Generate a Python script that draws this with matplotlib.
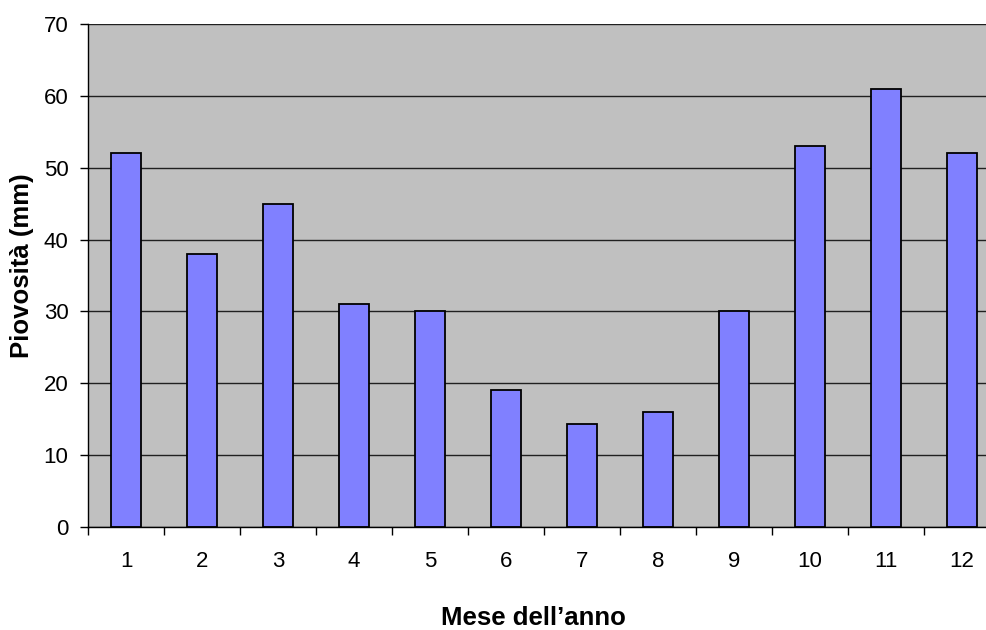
import matplotlib
matplotlib.use("Agg")
import matplotlib.pyplot as plt
import numpy as np

months = ["1", "2", "3", "4", "5", "6", "7", "8", "9", "10", "11", "12"]
rain = [52, 38, 45, 31, 30, 19, 14.3, 16, 30, 53, 61, 52]
yticks = [0, 10, 20, 30, 40, 50, 60, 70]

plt.rcParams['font.family'] = ['Liberation Sans', 'DejaVu Sans']

W, H = 986, 630
fig = plt.figure(figsize=(W / 100, H / 100), dpi=100)
left, right, top, bottom = 88, 1000, 24, 527
ax = fig.add_axes([left / W, 1 - bottom / H, (right - left) / W, (bottom - top) / H])
ax.set_facecolor('#C0C0C0')

x = np.arange(len(months))
ax.set_axisbelow(True)
ax.yaxis.grid(True, color='#202020', linewidth=1.0)
ax.bar(x, rain, width=0.4, color='#8080FF', edgecolor='black', linewidth=1.3, zorder=2)

ax.set_xlim(-0.5, len(months) - 0.5)
ax.set_ylim(0, 70)
ax.set_yticks(yticks)
ax.set_yticklabels([str(v) for v in yticks], fontsize=16)
ax.tick_params(axis='y', direction='out', length=6, width=1, pad=8)

ax.set_xticks(np.arange(len(months) + 1) - 0.5)
ax.set_xticklabels([])
ax.set_xticks(x, minor=True)
ax.set_xticklabels(months, minor=True, fontsize=16)
ax.tick_params(axis='x', which='major', direction='out', length=6, width=1)
ax.tick_params(axis='x', which='minor', length=0, pad=17)

for s in ['top', 'right']:
    ax.spines[s].set_visible(False)
for s in ['left', 'bottom']:
    ax.spines[s].set_color('black')
    ax.spines[s].set_linewidth(1.0)

fig.text(533 / W, 1 - 625 / H, "Mese dell\u2019anno", ha='center', va='baseline',
         fontsize=18.5, fontweight='bold')
fig.text(22 / W, 1 - 266 / H, "Piovosit\u00e0 (mm)", ha='center', va='center',
         rotation=90, fontsize=18.5, fontweight='bold')

fig.savefig("out.png", dpi=100)
